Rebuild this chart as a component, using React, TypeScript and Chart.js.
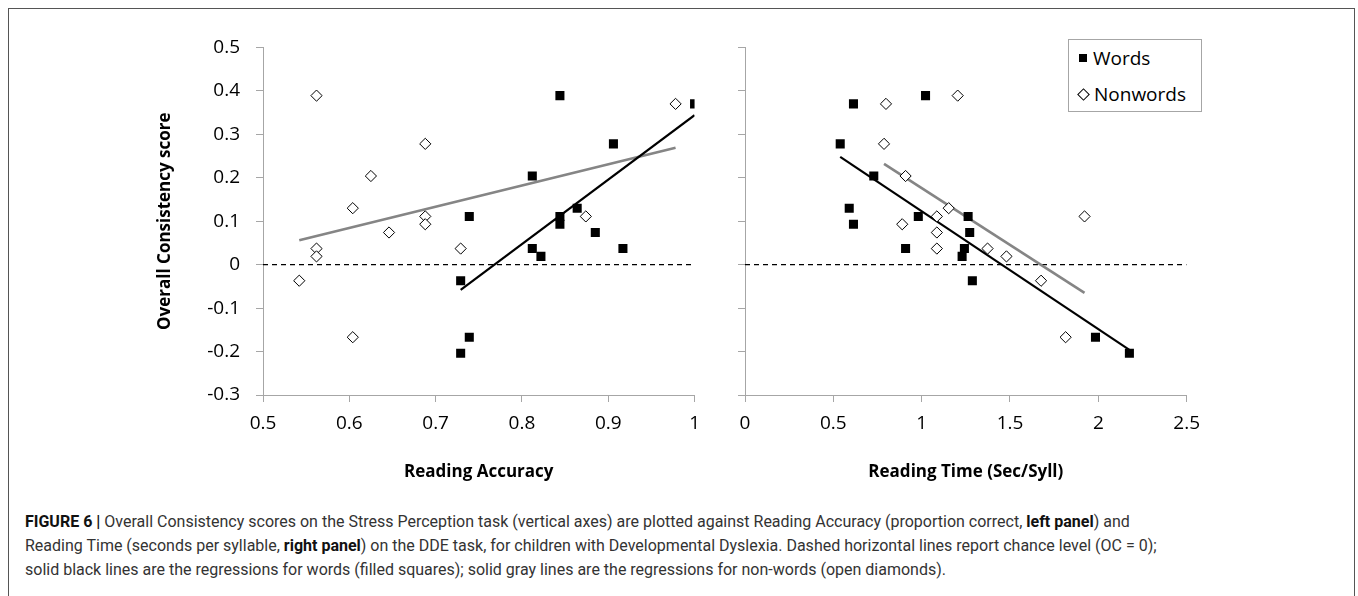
import React, { useEffect, useRef } from "react";
import Chart from "chart.js/auto";

// ---- Left panel: Reading Accuracy ----
const accWordsX = [0.739, 0.729, 0.739, 0.729, 0.844, 1.0, 0.906, 0.812, 0.864, 0.844, 0.844, 0.885, 0.812, 0.822, 0.917];
const accWordsY = [0.111, -0.037, -0.167, -0.204, 0.389, 0.37, 0.278, 0.204, 0.13, 0.111, 0.093, 0.074, 0.037, 0.019, 0.037];
const accNonX = [0.542, 0.562, 0.562, 0.562, 0.604, 0.604, 0.625, 0.646, 0.688, 0.688, 0.688, 0.729, 0.874, 0.978];
const accNonY = [-0.037, 0.389, 0.037, 0.019, 0.13, -0.167, 0.204, 0.074, 0.278, 0.111, 0.093, 0.037, 0.111, 0.37];
const accWordsFitX = [0.729, 1.0];
const accWordsFitY = [-0.058, 0.344];
const accNonFitX = [0.542, 0.978];
const accNonFitY = [0.056, 0.269];

// ---- Right panel: Reading Time ----
const timeWordsX = [0.539, 0.614, 1.022, 0.729, 0.59, 0.614, 0.909, 0.981, 1.263, 1.272, 1.242, 1.229, 1.287, 1.984, 2.176];
const timeWordsY = [0.278, 0.37, 0.389, 0.204, 0.13, 0.093, 0.037, 0.111, 0.111, 0.074, 0.037, 0.019, -0.037, -0.167, -0.204];
const timeNonX = [0.798, 0.787, 1.204, 0.909, 0.89, 1.086, 1.153, 1.086, 1.086, 1.373, 1.48, 1.676, 1.815, 1.922];
const timeNonY = [0.37, 0.278, 0.389, 0.204, 0.093, 0.111, 0.13, 0.074, 0.037, 0.037, 0.019, -0.037, -0.167, 0.111];
const timeWordsFitX = [0.539, 2.176];
const timeWordsFitY = [0.248, -0.196];
const timeNonFitX = [0.787, 1.922];
const timeNonFitY = [0.232, -0.065];

// ---- Axes ----
const yRange = [-0.3, 0.5];
const yStep = 0.1;
const accRange = [0.5, 1];
const accStep = 0.1;
const timeRange = [0, 2.5];
const timeStep = 0.5;
const chanceLevel = 0;

const yTitle = "Overall Consistency score";
const accTitle = "Reading Accuracy";
const timeTitle = "Reading Time (Sec/Syll)";
const legendLabels = ["Words", "Nonwords"];

const FONT = "'Open Sans', sans-serif";
const AXIS = "#a6a6a6";
const GRAY = "#858585";

const pts = (xs: number[], ys: number[]) => xs.map((x, i) => ({ x, y: ys[i] }));
const fmt = (v: number | string) => String(Number(Number(v).toFixed(2)));

function buildConfig(p: any): any {
  return {
    type: "scatter",
    data: {
      datasets: [
        {
          label: legendLabels[0],
          data: pts(p.wx, p.wy),
          pointStyle: "rect",
          pointRadius: 6.4,
          pointHoverRadius: 6.4,
          backgroundColor: "#000",
          borderColor: "#000",
          borderWidth: 0,
        },
        {
          label: legendLabels[1],
          data: pts(p.nx, p.ny),
          pointStyle: "rectRot",
          pointRadius: 5.6,
          pointHoverRadius: 5.6,
          backgroundColor: "#fff",
          borderColor: "#000",
          borderWidth: 1,
        },
        {
          type: "line",
          label: "words fit",
          data: pts(p.wfx, p.wfy),
          borderColor: "#000",
          borderWidth: 2.2,
          pointRadius: 0,
          fill: false,
        },
        {
          type: "line",
          label: "nonwords fit",
          data: pts(p.nfx, p.nfy),
          borderColor: GRAY,
          borderWidth: 2.6,
          pointRadius: 0,
          fill: false,
        },
        {
          type: "line",
          label: "chance",
          data: pts(p.range, [chanceLevel, chanceLevel]),
          borderColor: "#000",
          borderWidth: 1.2,
          borderDash: [5, 4],
          pointRadius: 0,
          fill: false,
        },
      ],
    },
    options: {
      animation: false,
      responsive: false,
      maintainAspectRatio: false,
      events: [],
      layout: { padding: { top: 14, right: p.padRight, bottom: 0, left: 0 } },
      plugins: { legend: { display: false }, tooltip: { enabled: false } },
      scales: {
        x: {
          type: "linear",
          min: p.range[0],
          max: p.range[1],
          ticks: {
            stepSize: p.step,
            callback: (v: any) => fmt(v),
            color: "#000",
            font: { family: FONT, size: 19 },
            padding: 10,
            maxRotation: 0,
            autoSkip: false,
          },
          grid: { drawOnChartArea: false, drawTicks: true, tickLength: 7, color: AXIS },
          border: { color: AXIS, width: 1 },
          title: {
            display: true,
            text: p.xTitle,
            color: "#000",
            font: { family: FONT, size: 17, weight: "bold" },
            padding: { top: 0, bottom: 8 },
          },
          afterFit: (s: any) => {
            s.height = 95;
          },
        },
        y: {
          type: "linear",
          min: yRange[0],
          max: yRange[1],
          ticks: {
            stepSize: yStep,
            callback: (v: any) => (p.showY ? fmt(v) : ""),
            color: "#000",
            font: { family: FONT, size: 19 },
            padding: 16,
            autoSkip: false,
          },
          grid: { drawOnChartArea: false, drawTicks: true, tickLength: 7, color: AXIS },
          border: { color: AXIS, width: 1 },
          title: {
            display: p.showY,
            text: yTitle,
            color: "#000",
            font: { family: FONT, size: 17, weight: "bold" },
            padding: { top: 15, bottom: 0 },
          },
          afterFit: (s: any) => {
            s.width = p.yWidth;
          },
        },
      },
    },
  };
}

function Panel(props: { cfg: any; left: number; top: number; width: number; height: number }) {
  const ref = useRef<HTMLCanvasElement>(null);
  useEffect(() => {
    if (!ref.current) return;
    const chart = new Chart(ref.current, buildConfig(props.cfg));
    return () => chart.destroy();
  }, []);
  return (
    <canvas
      ref={ref}
      width={props.width}
      height={props.height}
      style={{ position: "absolute", left: props.left, top: props.top, width: props.width, height: props.height }}
    />
  );
}

export default function App() {
  const leftCfg = {
    wx: accWordsX, wy: accWordsY, nx: accNonX, ny: accNonY,
    wfx: accWordsFitX, wfy: accWordsFitY, nfx: accNonFitX, nfy: accNonFitY,
    range: accRange, step: accStep, xTitle: accTitle, showY: true, yWidth: 123, padRight: 14,
  };
  const rightCfg = {
    wx: timeWordsX, wy: timeWordsY, nx: timeNonX, ny: timeNonY,
    wfx: timeWordsFitX, wfy: timeWordsFitY, nfx: timeNonFitX, nfy: timeNonFitY,
    range: timeRange, step: timeStep, xTitle: timeTitle, showY: false, yWidth: 30, padRight: 22,
  };
  const b: React.CSSProperties = { fontWeight: 700, color: "#111" };
  return (
    <div style={{ position: "absolute", left: 0, top: 0, width: 1358, height: 596, overflow: "hidden", background: "#fff" }}>
      <div
        style={{
          position: "absolute",
          left: 8,
          top: 8,
          width: 1347,
          height: 620,
          border: "1px solid #555",
          boxSizing: "border-box",
        }}
      />
      <Panel cfg={leftCfg} left={140} top={20} width={570} height={470} />
      <Panel cfg={rightCfg} left={715} top={20} width={495} height={470} />
      <div
        style={{
          position: "absolute",
          left: 1068,
          top: 39,
          width: 134,
          height: 73,
          boxSizing: "border-box",
          border: "1px solid #a6a6a6",
          background: "#fff",
          fontFamily: FONT,
          fontSize: 19,
          color: "#000",
        }}
      >
        <div style={{ position: "absolute", left: 10, top: 4, height: 28, display: "flex", alignItems: "center" }}>
          <span style={{ display: "inline-block", width: 8, height: 8, background: "#000", marginRight: 6 }} />
          <span>{legendLabels[0]}</span>
        </div>
        <div style={{ position: "absolute", left: 9, top: 40, height: 28, display: "flex", alignItems: "center" }}>
          <span
            style={{
              display: "inline-block",
              width: 7,
              height: 7,
              border: "1px solid #000",
              transform: "rotate(45deg)",
              marginRight: 6,
              marginLeft: 1,
            }}
          />
          <span>{legendLabels[1]}</span>
        </div>
      </div>
      <div
        style={{
          position: "absolute",
          left: 25,
          top: 510,
          width: 1320,
          fontFamily: "Roboto, 'Liberation Sans', sans-serif",
          fontSize: 16,
          lineHeight: "24px",
          color: "#333",
          whiteSpace: "nowrap",
        }}
      >
        <div>
          <span style={b}>FIGURE 6 |</span> Overall Consistency scores on the Stress Perception task (vertical axes) are
          plotted against Reading Accuracy (proportion correct, <span style={b}>left panel</span>) and
        </div>
        <div>
          Reading Time (seconds per syllable, <span style={b}>right panel</span>) on the DDE task, for children with
          Developmental Dyslexia. Dashed horizontal lines report chance level (OC = 0);
        </div>
        <div>
          solid black lines are the regressions for words (filled squares); solid gray lines are the regressions for
          non-words (open diamonds).
        </div>
      </div>
    </div>
  );
}
